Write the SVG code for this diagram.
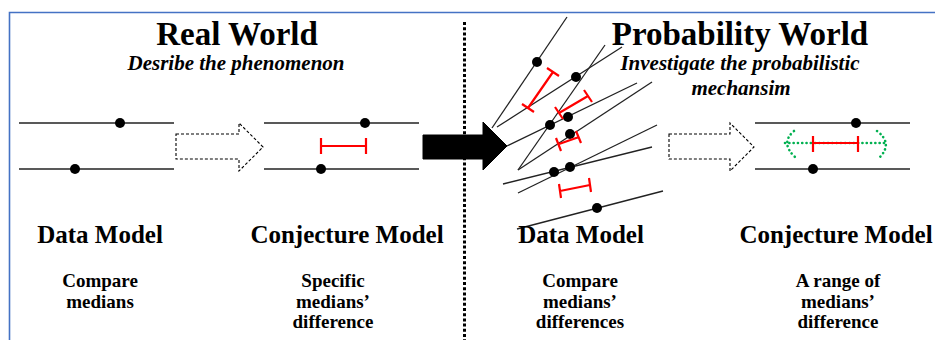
<svg xmlns="http://www.w3.org/2000/svg" width="935" height="340" viewBox="0 0 935 340">
  <style>
    .title { font-family: "Liberation Serif", "Times New Roman", serif; font-weight: bold; font-size: 33px; fill: #000; text-anchor: middle; }
    .sub { font-family: "Liberation Serif", "Times New Roman", serif; font-weight: bold; font-style: italic; font-size: 21px; fill: #000; text-anchor: middle; }
    .label { font-family: "Liberation Serif", "Times New Roman", serif; font-weight: bold; font-size: 25px; fill: #000; text-anchor: middle; }
    .note { font-family: "Liberation Serif", "Times New Roman", serif; font-weight: bold; font-size: 19px; fill: #000; text-anchor: middle; }
    .axis { stroke: #222; stroke-width: 1.3; fill: none; }
    .dot { fill: #000; }
    .gap { stroke: #ff0000; stroke-width: 2.2; fill: none; }
    .hollow { fill: #fff; stroke: #000; stroke-width: 1.1; stroke-dasharray: 3 2; }
    .range { stroke: #00b050; stroke-width: 2.6; stroke-dasharray: 0.1 4.2; stroke-linecap: round; fill: none; }
  </style>

  <!-- frame -->
  <path d="M9.5 340 V12.5 H935" fill="none" stroke="#4472c4" stroke-width="1.6"/>

  <!-- titles -->
  <g id="real-world-title">
    <text class="title" x="237" y="45">Real World</text>
    <text class="sub" x="236" y="70">Desribe the phenomenon</text>
  </g>
  <g id="probability-world-title">
    <text class="title" x="740" y="45">Probability World</text>
    <text class="sub" x="740" y="70">Investigate the probabilistic</text>
    <text class="sub" x="741" y="95">mechansim</text>
  </g>

  <!-- real world: data model -->
  <g id="real-data-model">
    <line class="axis" x1="19" y1="123" x2="174" y2="123"/>
    <line class="axis" x1="19" y1="169" x2="174" y2="169"/>
    <circle class="dot" cx="120" cy="123" r="5"/>
    <circle class="dot" cx="75" cy="169" r="5"/>
    <text class="label" x="100" y="243">Data Model</text>
    <text class="note" x="100" y="287">Compare</text>
    <text class="note" x="100" y="308">medians</text>
  </g>

  <!-- real world: conjecture model -->
  <g id="real-conjecture-model">
    <line class="axis" x1="264" y1="123" x2="419" y2="123"/>
    <line class="axis" x1="264" y1="169" x2="419" y2="169"/>
    <circle class="dot" cx="365" cy="123" r="5"/>
    <circle class="dot" cx="321" cy="169" r="5"/>
    <path class="gap" d="M321 146 H366 M321 138 V154 M366 138 V154"/>
    <text class="label" x="347" y="243">Conjecture Model</text>
    <text class="note" x="333" y="287">Specific</text>
    <text class="note" x="333" y="308">medians’</text>
    <text class="note" x="333" y="328">difference</text>
  </g>

  <!-- probability world: many resampled data models -->
  <g id="prob-data-model">
    <line class="axis" x1="567" y1="17" x2="492" y2="128"/>
    <line class="axis" x1="622" y1="47" x2="497" y2="127"/>
    <line class="axis" x1="605" y1="45" x2="518" y2="170"/>
    <line class="axis" x1="637" y1="83" x2="507" y2="146"/>
    <line class="axis" x1="652" y1="82" x2="518" y2="170"/>
    <line class="axis" x1="652" y1="147" x2="503" y2="184"/>
    <line class="axis" x1="657" y1="125" x2="518" y2="193"/>
    <line class="axis" x1="663" y1="191" x2="517" y2="229"/>
    <circle class="dot" cx="537" cy="62" r="5"/>
    <circle class="dot" cx="576" cy="77" r="5"/>
    <circle class="dot" cx="550" cy="125" r="5"/>
    <circle class="dot" cx="568" cy="117" r="5"/>
    <circle class="dot" cx="570" cy="134" r="5"/>
    <circle class="dot" cx="554" cy="172" r="5"/>
    <circle class="dot" cx="570" cy="167" r="5"/>
    <circle class="dot" cx="597" cy="208" r="5"/>
    <path class="gap" d="M528 108 L553 72 M522 104 L534 112 M547 68 L559 76"/>
    <path class="gap" d="M559 113 L588 96 M555 107 L563 119 M584 90 L592 102"/>
    <path class="gap" d="M559 144 L579 137 M556 138 L561 151 M576 131 L581 143"/>
    <path class="gap" d="M560 191 L590 185 M559 184 L561 198 M589 178 L591 192"/>
    <text class="label" x="581" y="243">Data Model</text>
    <text class="note" x="580" y="287">Compare</text>
    <text class="note" x="580" y="308">medians’</text>
    <text class="note" x="580" y="328">differences</text>
  </g>

  <!-- probability world: conjecture model -->
  <g id="prob-conjecture-model">
    <line class="axis" x1="755" y1="123" x2="910" y2="123"/>
    <line class="axis" x1="755" y1="169" x2="910" y2="169"/>
    <circle class="dot" cx="856" cy="123" r="5"/>
    <circle class="dot" cx="813" cy="169" r="5"/>
    <path class="range" d="M785 143 H888"/>
    <path class="range" d="M794 131 Q780 143 795 157"/>
    <path class="range" d="M877 131 Q893 143 880 157"/>
    <path class="gap" d="M813 143 H858 M813 136 V152 M858 136 V152"/>
    <text class="label" x="836" y="243">Conjecture Model</text>
    <text class="note" x="838" y="287">A range of</text>
    <text class="note" x="838" y="308">medians’</text>
    <text class="note" x="838" y="328">difference</text>
  </g>

  <!-- connectors -->
  <g id="connectors">
    <path class="hollow" d="M176 134 H239 V123 L263 147 L239 171 V159 H176 Z"/>
    <path class="hollow" d="M669 134 H730 V123 L754 147 L730 171 V159 H669 Z"/>
    <path d="M423 135 H483 V122 L507 146 L483 170 V159 H423 Z" fill="#000" stroke="#000" stroke-width="1"/>
  </g>

  <!-- divider between the two worlds -->
  <line x1="464.5" y1="22" x2="464.5" y2="340" stroke="#000" stroke-width="3" stroke-dasharray="3 2.2"/>
</svg>
